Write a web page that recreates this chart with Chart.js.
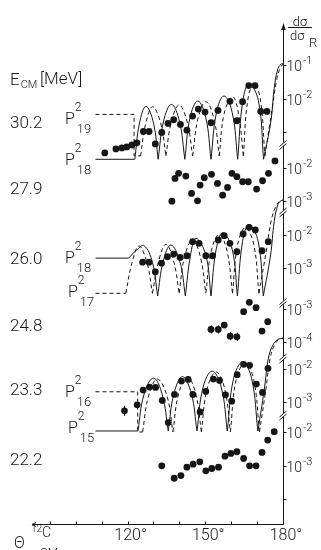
<!DOCTYPE html>
<html lang="en">
<head>
<meta charset="UTF-8">
<title>12C + 12C back-angle cross sections</title>
<style>
  html, body { margin: 0; padding: 0; background: #fff; }
  .chartBox { width: 321px; height: 550px; }
</style>
</head>
<body>
<div class="chartBox"><canvas id="myChart" width="321" height="550"></canvas></div>
<script src="https://cdn.jsdelivr.net/npm/chart.js"></script>
<script>
// angles are theta c.m. in degrees, values are log10(dsigma/dsigma_R)
var energies = ['30.2', '27.9', '26.0', '24.8', '23.3', '22.2'];

var theta302 = [111.2, 115.5, 117.8, 119.7, 121.7, 123.6, 126.1, 128.3, 130.7, 133.2, 135.6, 137.8, 140.4, 142.9, 145.1, 147.3, 149.9, 152.2, 154.9, 159.5, 162.2, 164.4, 166.8, 169.2, 171.4, 173.8];
var lg302 = [-3.61, -3.49, -3.46, -3.43, -3.37, -3.31, -2.97, -2.97, -3.34, -3.00, -2.73, -2.62, -2.76, -2.93, -2.51, -2.30, -2.39, -2.71, -2.34, -2.07, -2.65, -2.08, -1.60, -1.60, -2.37, -2.37];

var theta279 = [137.1, 138.3, 139.7, 142.5, 144.7, 147.0, 148.0, 149.6, 152.4, 154.7, 156.7, 158.6, 160.3, 162.2, 164.4, 166.6, 169.8, 172.1, 174.4, 176.9];
var lg279 = [-2.99, -2.31, -2.16, -2.24, -2.76, -2.98, -2.51, -2.29, -2.19, -2.46, -2.81, -2.58, -2.16, -2.26, -2.41, -2.41, -2.63, -2.38, -2.16, -1.79];

var theta260 = [125.8, 128.3, 130.7, 133.1, 135.4, 137.8, 140.3, 142.9, 145.1, 147.6, 150.2, 152.8, 155.0, 157.3, 159.5, 162.2, 164.6, 166.9, 169.3, 171.9, 174.3];
var lg260 = [-2.81, -2.81, -3.10, -2.84, -2.65, -2.57, -2.67, -2.62, -2.20, -2.25, -2.62, -2.62, -2.15, -2.02, -2.25, -2.50, -1.97, -1.77, -1.85, -2.47, -2.20];

var theta248 = [152.2, 155.0, 157.3, 159.6, 162.2, 164.8, 167.0, 169.6, 171.9, 174.1];
var lg248 = [-3.61, -3.61, -3.48, -3.81, -3.83, -3.08, -2.80, -2.96, -3.66, -3.38];
var err248 = [0.12, 0.12, 0, 0.12, 0.12, 0, 0, 0, 0, 0];

var theta233 = [118.8, 123.7, 126.0, 128.5, 130.8, 133.4, 135.7, 138.1, 140.8, 143.4, 145.2, 148.0, 150.2, 153.1, 155.5, 157.8, 160.2, 162.3, 164.8, 167.1, 169.7, 172.1, 174.2];
var lg233 = [-3.25, -3.07, -2.63, -2.54, -2.55, -2.94, -3.60, -2.76, -2.36, -2.31, -2.76, -3.28, -2.67, -2.30, -2.34, -2.77, -2.96, -2.17, -1.86, -1.89, -2.45, -2.70, -1.98];
var err233 = [0.15, 0, 0, 0, 0, 0, 0, 0, 0, 0, 0, 0, 0, 0, 0, 0, 0, 0, 0, 0, 0, 0, 0];

var theta222 = [133.2, 138.0, 140.6, 142.9, 145.3, 147.9, 150.2, 152.5, 155.1, 157.6, 159.9, 162.2, 164.8, 167.1, 169.6, 171.9, 174.1, 176.6];
var lg222 = [-3.01, -3.38, -3.30, -3.05, -2.96, -2.89, -3.16, -3.09, -3.05, -2.72, -2.64, -2.59, -2.79, -3.01, -3.01, -2.61, -2.24, -1.99];

// |P_L^2(cos theta)|^2 curves as [theta, log10]
var p18at302 = [[122.8,-3.8],[124.6,-2.72],[127.1,-2.22],[130.0,-2.72],[131.8,-3.8],[133.9,-2.66],[136.9,-2.16],[140.0,-2.66],[142.1,-3.8],[144.1,-2.56],[147.1,-2.06],[150.2,-2.56],[152.2,-3.8],[154.3,-2.41],[157.2,-1.91],[160.4,-2.41],[162.5,-3.8],[164.5,-2.05],[166.9,-1.55],[170.5,-2.05],[172.5,-3.8],[175.3,-2.68],[176.6,-1.68],[177.9,-1.13],[179.2,-0.96],[180,-0.95]];
var p19at302 = [[125.0,-3.7],[127.0,-2.73],[129.65,-2.23],[132.8,-2.73],[134.8,-3.7],[136.9,-2.68],[139.9,-2.18],[143.0,-2.68],[145.1,-3.7],[147.2,-2.58],[150.2,-2.08],[153.3,-2.58],[155.4,-3.7],[157.3,-2.43],[160.5,-1.93],[162.8,-2.43],[164.7,-3.7],[166.4,-2.03],[168.9,-1.53],[171.3,-2.03],[173.0,-3.7],[175.8,-2.3],[177.5,-1.45],[179,-1.05],[180,-0.97]];
var p18at260 = [[120.4,-2.69],[123.5,-2.45],[126.4,-2.32],[129.6,-2.82],[131.6,-3.82],[133.7,-2.8],[136.7,-2.30],[140.2,-2.8],[142.3,-3.82],[144.3,-2.6],[146.4,-2.10],[150.2,-2.6],[152.2,-3.82],[154.2,-2.43],[156.7,-1.93],[160.4,-2.43],[162.4,-3.82],[164.4,-2.19],[166.9,-1.69],[170.4,-2.19],[172.4,-3.82],[175.2,-2.6],[176.6,-1.6],[178,-1.1],[179.2,-0.98],[180,-0.96]];
var p17at260 = [[119.3,-3.74],[121.7,-2.83],[124.4,-2.33],[127.5,-2.83],[129.6,-3.74],[132.0,-2.78],[134.8,-2.28],[137.8,-2.78],[139.9,-3.74],[142.0,-2.65],[145.1,-2.15],[148.1,-2.65],[150.2,-3.74],[152.3,-2.48],[155.4,-1.98],[158.4,-2.48],[160.5,-3.74],[162.5,-2.28],[165.5,-1.78],[168.7,-2.28],[170.7,-3.74],[173.5,-2.5],[175.5,-1.55],[177.5,-1.1],[179,-0.98],[180,-0.96]];
var p15at233 = [[124.0,-3.85],[126.3,-2.77],[130.0,-2.27],[133.4,-2.77],[135.7,-3.85],[137.9,-2.73],[141.2,-2.23],[144.6,-2.73],[146.8,-3.85],[149.1,-2.56],[152.6,-2.06],[156.2,-2.56],[158.5,-3.85],[160.9,-2.29],[164.4,-1.79],[167.9,-2.29],[170.3,-3.85],[172.8,-2.6],[174.3,-1.7],[176,-1.3],[178,-1.12],[180,-1.08]];
var p16at233 = [[125.8,-3.88],[128.1,-2.8],[131.5,-2.30],[135.2,-2.8],[137.5,-3.88],[139.7,-2.74],[143.1,-2.24],[146.3,-2.74],[148.5,-3.88],[150.7,-2.59],[154.2,-2.09],[157.5,-2.59],[159.7,-3.88],[161.9,-2.32],[165.4,-1.82],[168.7,-2.32],[170.9,-3.88],[173.4,-2.6],[175,-1.7],[176.6,-1.3],[178.4,-1.12],[180,-1.08]];

// label leader lines
var lead19 = [[107.6,-2.46],[122.5,-2.46],[122.5,-3.7],[125.0,-3.7]];
var lead18a = [[107.6,-3.8],[122.8,-3.8]];
var lead18b = [[107.6,-2.69],[120.4,-2.69]];
var lead17 = [[107.6,-3.74],[119.3,-3.74]];
var lead16 = [[107.6,-2.68],[123.9,-2.68],[123.9,-3.88],[125.8,-3.88]];
var lead15 = [[107.6,-3.85],[124.0,-3.85]];

// each panel sits on a shared axis measured in decades
var panelOffset = [14.687, 12.627, 10.627, 9.418, 6.627, 4.746];
var panelTicks = [[-1, -2], [-2, -3], [-2, -3], [-3, -4], [-2, -3], [-2, -3]];
var panelMinor = [[-3], [], [], [], [], [-4]];
var breaks = [11.328, 9.313, 6.612, 4.955, 3.254];
var xLabels = [120, 150, 180];

var ink = '#161616';
var fam = 'Roboto, "Liberation Sans", Arial, sans-serif';

function dots(th, lg, p, err) {
    return {
        data: th.map(function (t, i) { return { x: t, y: panelOffset[p] + lg[i] }; }),
        err: err || null,
        showLine: false,
        pointRadius: 3.4,
        pointBorderWidth: 0,
        pointBackgroundColor: ink
    };
}
function line(pairs, p, dashed, tension) {
    return {
        data: pairs.map(function (d) { return { x: d[0], y: panelOffset[p] + d[1] }; }),
        showLine: true,
        pointRadius: 0,
        borderColor: ink,
        borderWidth: 1,
        tension: tension,
        borderDash: dashed ? [4, 3] : []
    };
}
// one dataset per lobe, so the zeros stay sharp cusps
function lobes(pairs, p, dashed) {
    var out = [], cur = [pairs[0]];
    for (var i = 1; i < pairs.length; i++) {
        cur.push(pairs[i]);
        var isMin = i < pairs.length - 1 && pairs[i][1] < pairs[i - 1][1] && pairs[i][1] < pairs[i + 1][1];
        if (isMin) {
            out.push(line(cur, p, dashed, 0.4));
            cur = [pairs[i]];
        }
    }
    if (cur.length > 1) out.push(line(cur, p, dashed, 0.4));
    return out;
}

var errorBars = {
    id: 'errorBars',
    afterDatasetsDraw: function (chart) {
        var ctx = chart.ctx, ys = chart.scales.y;
        ctx.save();
        ctx.strokeStyle = ink;
        ctx.lineWidth = 1;
        chart.data.datasets.forEach(function (ds, i) {
            if (!ds.err) return;
            chart.getDatasetMeta(i).data.forEach(function (pt, j) {
                var e = ds.err[j];
                if (!e) return;
                var v = ds.data[j].y;
                ctx.beginPath();
                ctx.moveTo(Math.round(pt.x) + 0.5, ys.getPixelForValue(v + e));
                ctx.lineTo(Math.round(pt.x) + 0.5, ys.getPixelForValue(v - e));
                ctx.stroke();
            });
        });
        ctx.restore();
    }
};

var decor = {
    id: 'decor',
    afterDraw: function (chart) {
        var ctx = chart.ctx, xs = chart.scales.x, ys = chart.scales.y, a = chart.chartArea;
        var X = Math.round(xs.getPixelForValue(180)) + 0.5;
        var B = Math.round(a.bottom) + 0.5;
        function seg(x1, y1, x2, y2) {
            ctx.beginPath(); ctx.moveTo(x1, y1); ctx.lineTo(x2, y2); ctx.stroke();
        }
        function txt(s, x, y, size, align) {
            ctx.font = '300 ' + size + 'px ' + fam;
            ctx.textAlign = align || 'left';
            ctx.fillText(s, x, y);
            return ctx.measureText(s).width;
        }
        ctx.save();
        ctx.strokeStyle = ink;
        ctx.fillStyle = ink;
        ctx.lineWidth = 1;
        ctx.textBaseline = 'alphabetic';

        // axes
        seg(X, a.top - 2, X, B);
        seg(a.left, B, X, B);
        ctx.beginPath();
        ctx.moveTo(X, a.top - 5); ctx.lineTo(X - 2.2, a.top + 2); ctx.lineTo(X + 2.2, a.top + 2);
        ctx.closePath(); ctx.fill();
        seg(a.left, B, a.left + 4, B - 2);
        seg(a.left, B, a.left + 4, B + 2);

        // theta ticks every 10 degrees, inward
        for (var t = 90; t <= 180; t += 10) {
            var tx = Math.round(xs.getPixelForValue(t)) + 0.5;
            seg(tx, B, tx, B - 3);
        }
        xLabels.forEach(function (v) {
            var px = xs.getPixelForValue(v);
            ctx.font = '300 16px ' + fam;
            var w = ctx.measureText(String(v)).width;
            txt(v + '\u00b0', px - w / 2, 540, 16);
        });

        // decade ticks and labels per panel
        panelTicks.forEach(function (list, p) {
            list.forEach(function (e) {
                var y = Math.round(ys.getPixelForValue(panelOffset[p] + e)) + 0.5;
                seg(X, y, X + 3, y);
                var w = txt('10', X + 3, y + 5.5, 14);
                txt('-' + Math.abs(e), X + 4 + w, y - 2, 11);
            });
            panelMinor[p].forEach(function (e) {
                var y = Math.round(ys.getPixelForValue(panelOffset[p] + e)) + 0.5;
                seg(X, y, X + 3, y);
            });
        });

        // axis breaks
        breaks.forEach(function (b) {
            var y = ys.getPixelForValue(b);
            ctx.fillStyle = '#fff';
            ctx.fillRect(X - 1, y - 2, 2, 3);
            ctx.fillStyle = ink;
            seg(X - 4, y + 2, X + 3, y - 4);
            seg(X - 4, y + 5, X + 3, y - 1);
        });

        // y axis title
        txt('d\u03c3', 300, 25.5, 13, 'center');
        seg(288, 27.5, 312, 27.5);
        txt('d\u03c3', 290, 40, 13);
        txt('R', 309, 47, 13);

        // energy column
        var w2 = txt('E', 10, 85, 17);
        txt('CM', 10 + w2 + 1, 88, 11);
        txt('[MeV]', 40, 84, 17);
        var eY = [127.5, 194, 264, 331, 395, 465];
        energies.forEach(function (s, i) { txt(s, 10, eY[i], 17); });

        // Legendre labels
        var pl = [
            { n: '19', x: 65, y: 123.5 },
            { n: '18', x: 65, y: 165 },
            { n: '18', x: 65, y: 263 },
            { n: '17', x: 68, y: 297 },
            { n: '16', x: 65, y: 397 },
            { n: '15', x: 68, y: 433 }
        ];
        pl.forEach(function (o) {
            var w = txt('P', o.x, o.y, 16);
            txt('2', o.x + w, o.y - 13, 12);
            txt(o.n, o.x + w + 2, o.y + 9, 13);
        });

        // theta label
        txt('\u0398', 14, 548, 16);
        txt('12', 31, 532, 10);
        txt('C', 42, 537, 14);
        txt('CM', 40, 557, 12);
        ctx.restore();
    }
};

var datasets = [
    dots(theta302, lg302, 0),
    dots(theta279, lg279, 1),
    dots(theta260, lg260, 2),
    dots(theta248, lg248, 3, err248),
    dots(theta233, lg233, 4, err233),
    dots(theta222, lg222, 5)
].concat(
    lobes(p18at302, 0, false),
    lobes(p19at302, 0, true),
    lobes(p18at260, 2, false),
    lobes(p17at260, 2, true),
    lobes(p15at233, 4, false),
    lobes(p16at233, 4, true),
    [
        line(lead19, 0, true, 0),
        line(lead18a, 0, false, 0),
        line(lead18b, 2, false, 0),
        line(lead17, 2, true, 0),
        line(lead16, 4, true, 0),
        line(lead15, 4, false, 0)
    ]
);

var myChart = new Chart(document.getElementById('myChart').getContext('2d'), {
    type: 'scatter',
    data: { datasets: datasets },
    options: {
        responsive: false,
        animation: false,
        layout: { padding: { left: 32, right: 38, top: 28, bottom: 26 } },
        scales: {
            x: { type: 'linear', min: 83.1, max: 180, display: false },
            y: { type: 'linear', min: 0, max: 14.806, display: false }
        },
        plugins: {
            legend: { display: false },
            tooltip: { enabled: false }
        }
    },
    plugins: [errorBars, decor]
});
</script>
</body>
</html>
